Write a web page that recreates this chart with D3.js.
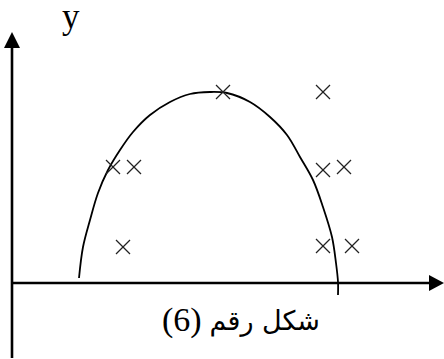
<!DOCTYPE html>
<html>
<head>
<meta charset="utf-8">
<script src="https://cdn.jsdelivr.net/npm/d3@7"></script>
<style>
  html, body { margin: 0; padding: 0; background: #fff; }
</style>
</head>
<body>
<div id="chart"></div>
<script>
const W = 444, H = 359;

// curve (x, y in chart units)
const curveX = [6.7, 7.1, 7.8, 8.6, 9.6, 10.8, 12.1, 13.8, 15.8, 17.8, 19.8, 21.5, 23.8, 25.8, 27.5, 28.8, 30.1, 31.1, 32.0, 32.4, 32.6, 32.6];
const curveY = [0.5, 3.6, 6.3, 9.0, 11.3, 13.3, 15.1, 16.8, 18.1, 18.9, 19.1, 19.0, 18.1, 16.6, 14.8, 12.6, 10.3, 7.6, 4.6, 2.0, 0.1, -1.2];

// cross markers
const crossX = [21.1, 31.1, 10.1, 12.2, 31.1, 33.2, 11.1, 31.1, 34.0];
const crossY = [19.1, 19.1, 11.6, 11.6, 11.3, 11.6, 3.6, 3.7, 3.7];

const yLabel = "y";
const captionWords = "شكل رقم";
const captionNum = "(6)";

const x = d3.scaleLinear().domain([0, 43.2]).range([12, 444]);
const y = d3.scaleLinear().domain([0, 25]).range([283, 33]);

const svg = d3.select("#chart").append("svg")
  .attr("width", W)
  .attr("height", H);

// axes with arrow heads
const axisG = svg.append("g").attr("stroke", "#000").attr("stroke-width", 2.6);
axisG.append("line")
  .attr("x1", x(0)).attr("x2", x(0))
  .attr("y1", y(-7.5)).attr("y2", y(23.6));
axisG.append("line")
  .attr("x1", x(0)).attr("x2", x(41.8))
  .attr("y1", y(0)).attr("y2", y(0));

svg.append("path")
  .attr("d", `M${x(0)},${y(25.1)} L${x(0) - 8},${y(23.5)} L${x(0) + 8},${y(23.5)} Z`)
  .attr("fill", "#000");
svg.append("path")
  .attr("d", `M${x(43.2)},${y(0)} L${x(41.7)},${y(0) - 8} L${x(41.7)},${y(0) + 8} Z`)
  .attr("fill", "#000");

// fitted curve
const pts = curveX.map((d, i) => [x(d), y(curveY[i])]);
svg.append("path")
  .attr("d", d3.line().curve(d3.curveCatmullRom)(pts))
  .attr("fill", "none")
  .attr("stroke", "#000")
  .attr("stroke-width", 1.8);

// crosses
const r = 7;
const crosses = svg.append("g")
  .attr("stroke", "#222")
  .attr("stroke-width", 1.2)
  .selectAll("g")
  .data(crossX.map((d, i) => ({ x: d, y: crossY[i] })))
  .enter()
  .append("g");
crosses.append("line")
  .attr("x1", d => x(d.x) - r).attr("y1", d => y(d.y) - r)
  .attr("x2", d => x(d.x) + r).attr("y2", d => y(d.y) + r);
crosses.append("line")
  .attr("x1", d => x(d.x) - r).attr("y1", d => y(d.y) + r)
  .attr("x2", d => x(d.x) + r).attr("y2", d => y(d.y) - r);

// labels
svg.append("text")
  .attr("x", 62)
  .attr("y", 28)
  .style("font-family", "'Liberation Serif', 'DejaVu Serif', serif")
  .style("font-size", "35px")
  .text(yLabel);

// caption: Arabic words on the right, number in parentheses on the left
svg.append("text")
  .attr("x", 320)
  .attr("y", 330)
  .attr("text-anchor", "end")
  .style("font-family", "'DejaVu Sans', sans-serif")
  .style("font-size", "27px")
  .text(captionWords);

svg.append("text")
  .attr("x", 162)
  .attr("y", 331)
  .style("font-family", "'Liberation Serif', serif")
  .style("font-size", "34px")
  .text(captionNum);
</script>
</body>
</html>
